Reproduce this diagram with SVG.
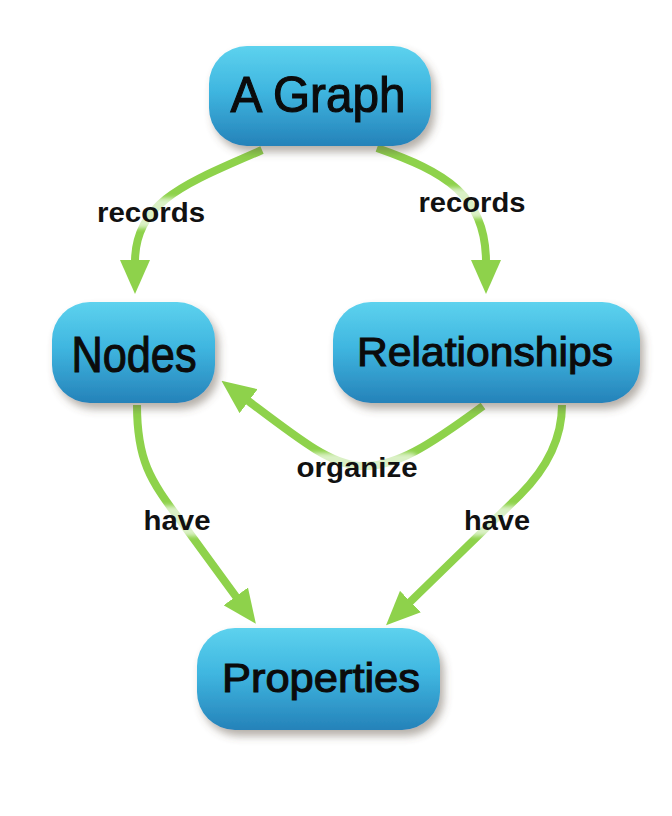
<svg xmlns="http://www.w3.org/2000/svg" width="672" height="816" viewBox="0 0 672 816">
  <defs>
    <linearGradient id="nodeFill" x1="0" y1="0" x2="0" y2="1">
      <stop offset="0" stop-color="#5dd2ee"/>
      <stop offset="0.45" stop-color="#3fb6e0"/>
      <stop offset="1" stop-color="#2582b9"/>
    </linearGradient>
    <filter id="nodeShadow" x="-20%" y="-30%" width="140%" height="170%">
      <feDropShadow dx="4" dy="6" stdDeviation="4" flood-color="#5a5040" flood-opacity="0.45"/>
    </filter>
    <filter id="soft" x="-20%" y="-40%" width="140%" height="180%">
      <feGaussianBlur stdDeviation="2"/>
    </filter>
    <marker id="arrow" markerUnits="userSpaceOnUse" viewBox="0 0 34 30" refX="2" refY="15" markerWidth="34" markerHeight="30" orient="auto">
      <path d="M0,0 L34,15 L0,30 Z" fill="#8ed24b"/>
    </marker>
    <style>
      .node rect { fill: url(#nodeFill); filter: url(#nodeShadow); }
      .node text { font-family: "Liberation Sans", Arial, sans-serif; fill: #0b0b0b; stroke: #0b0b0b; stroke-width: 1.1; text-anchor: middle; }
      .edge { fill: none; stroke: #8ed24b; stroke-width: 8; marker-end: url(#arrow); }
      .halo { fill: #ffffff; opacity: 0.68; filter: url(#soft); }
      .lbl { font-family: "Liberation Sans", Arial, sans-serif; font-weight: bold; font-size: 28px; fill: #111111; text-anchor: middle; }
    </style>
  </defs>

  <rect width="672" height="816" fill="#ffffff"/>

  <!-- connectors -->
  <g id="connectors">
    <path class="edge" d="M262,150 C190,182 135,200 135,262"/>
    <path class="edge" d="M377,148 C445,172 486,195 486,262"/>
    <path class="edge" d="M483,406 C430,445 395,468 360,466 C330,464 300,440 247,400"/>
    <path class="edge" d="M137,405 C137,460 150,480 180,520 L237,598"/>
    <path class="edge" d="M562,405 C562,440 545,470 520,495 L409,603"/>

    <!-- label halos soften the lines behind the text -->
    <rect class="halo" x="94" y="198" width="114" height="30" rx="10"/>
    <rect class="halo" x="415" y="188" width="114" height="30" rx="10"/>
    <rect class="halo" x="294" y="453" width="126" height="32" rx="10"/>
    <rect class="halo" x="140" y="506" width="74" height="30" rx="10"/>
    <rect class="halo" x="462" y="506" width="72" height="30" rx="10"/>

    <text class="lbl" x="151" y="222" textLength="108" lengthAdjust="spacingAndGlyphs">records</text>
    <text class="lbl" x="472" y="212" textLength="107" lengthAdjust="spacingAndGlyphs">records</text>
    <text class="lbl" x="357" y="477" textLength="121" lengthAdjust="spacingAndGlyphs">organize</text>
    <text class="lbl" x="177" y="530" textLength="67" lengthAdjust="spacingAndGlyphs">have</text>
    <text class="lbl" x="497" y="530" textLength="66" lengthAdjust="spacingAndGlyphs">have</text>
  </g>

  <!-- nodes -->
  <g id="node-graph" class="node">
    <rect x="209" y="46" width="222" height="100" rx="38"/>
    <text x="318" y="112" font-size="50" textLength="175" lengthAdjust="spacingAndGlyphs">A Graph</text>
  </g>
  <g id="node-nodes" class="node">
    <rect x="52" y="302" width="163" height="101" rx="38"/>
    <text x="134" y="372" font-size="50" textLength="125" lengthAdjust="spacingAndGlyphs">Nodes</text>
  </g>
  <g id="node-relationships" class="node">
    <rect x="333" y="302" width="307" height="101" rx="38"/>
    <text x="485" y="366" font-size="41" textLength="256" lengthAdjust="spacingAndGlyphs">Relationships</text>
  </g>
  <g id="node-properties" class="node">
    <rect x="197" y="628" width="243" height="102" rx="38"/>
    <text x="321" y="692" font-size="41" textLength="198" lengthAdjust="spacingAndGlyphs">Properties</text>
  </g>
</svg>
